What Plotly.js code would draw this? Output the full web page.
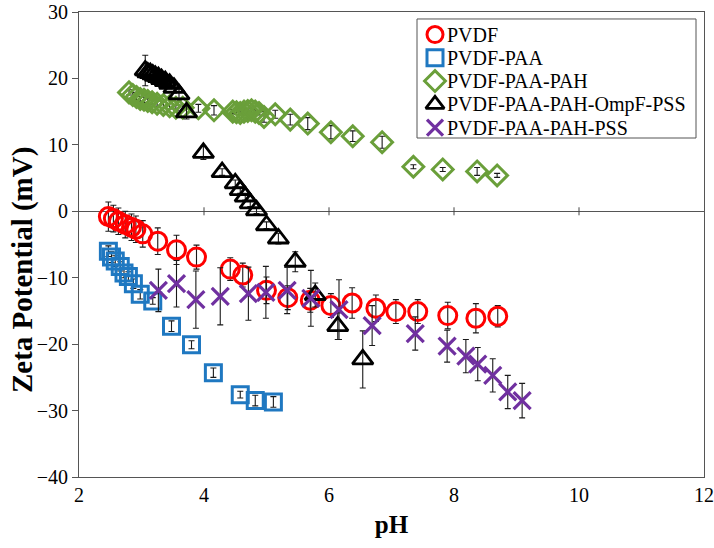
<!DOCTYPE html>
<html>
<head>
<meta charset="utf-8">
<script src="https://cdn.plot.ly/plotly-3.0.1.min.js"></script>
<style>html,body{margin:0;padding:0;background:#fff;}#chart{width:714px;height:548px;}</style>
</head>
<body>
<div id="chart"></div>
<script>
// ---- data ----
const seriesNames = ["PVDF", "PVDF-PAA", "PVDF-PAA-PAH", "PVDF-PAA-PAH-OmpF-PSS", "PVDF-PAA-PAH-PSS"];

const pvdfPH  = [2.47,2.55,2.63,2.74,2.84,2.91,3.02,3.26,3.56,3.88,4.42,4.62,5.0,5.34,5.7,6.03,6.37,6.75,7.07,7.42,7.9,8.35,8.7];
const pvdfZP  = [-0.8,-1.1,-1.5,-2.0,-2.4,-2.7,-3.4,-4.5,-5.8,-6.9,-8.7,-9.6,-11.9,-13.0,-13.4,-14.2,-13.8,-14.6,-15.1,-15.1,-15.7,-16.1,-15.8];
const pvdfErr = [2.2,2.0,2.0,2.0,2.0,2.0,2.0,2.0,2.2,1.8,1.7,1.8,2.0,1.8,1.8,1.8,2.3,2.0,1.8,1.8,2.0,2.2,1.6];

const paaPH  = [2.47,2.52,2.58,2.66,2.72,2.79,2.87,2.98,3.18,3.48,3.8,4.15,4.58,4.82,5.11];
const paaZP  = [-6.0,-6.9,-7.5,-8.3,-9.3,-9.8,-10.9,-12.5,-13.5,-17.3,-20.1,-24.3,-27.6,-28.5,-28.7];
const paaErr = [0.8,0.8,0.8,0.7,0.7,0.7,0.7,0.7,0.5,0.8,0.6,0.7,0.5,0.8,0.8];

const pahPH  = [2.8,2.86,2.92,2.98,3.04,3.1,3.17,3.25,3.35,3.45,3.55,3.66,3.91,4.16,4.46,4.52,4.58,4.64,4.7,4.76,4.82,4.88,4.96,5.14,5.38,5.66,6.03,6.38,6.85,7.35,7.82,8.37,8.69];
const pahZP  = [17.9,17.5,17.2,16.9,16.8,16.6,16.4,16.2,16.0,15.8,15.6,15.6,15.5,15.2,15.0,14.9,14.8,15.0,15.1,15.2,15.0,14.8,14.2,14.6,13.8,13.2,11.9,11.3,10.4,6.7,6.3,6.0,5.4];
const pahErr = [0.4,0.4,0.4,0.4,0.4,0.4,0.4,0.4,0.4,0.4,0.4,0.4,0.6,0.7,0.3,0.3,0.3,0.3,0.3,0.3,0.3,0.3,0.8,0.6,0.8,0.9,1.0,0.8,0.9,0.3,0.3,0.6,0.3];

const ompfPH  = [3.06,3.1,3.14,3.18,3.22,3.27,3.32,3.38,3.45,3.52,3.6,3.72,3.99,4.29,4.5,4.58,4.66,4.74,4.84,5.0,5.19,5.46,5.78,6.14,6.54];
const ompfZP  = [21.2,20.9,20.8,20.6,20.4,20.2,19.9,19.6,19.2,18.6,17.6,14.9,8.8,5.9,4.2,3.2,2.2,1.2,0.15,-2.1,-4.1,-7.6,-12.6,-17.3,-22.3];
const ompfErr = [2.3,1.0,1.0,1.0,0.8,0.8,0.8,0.8,0.8,0.8,0.8,1.0,1.0,0.5,0.5,0.5,0.5,0.5,0.5,0.5,0.8,1.5,1.8,2.0,4.3];

const pssPH  = [3.27,3.56,3.87,4.26,4.71,4.99,5.33,5.71,6.16,6.69,7.38,7.89,8.19,8.38,8.62,8.86,9.09];
const pssZP  = [-11.9,-10.9,-13.3,-12.8,-12.4,-12.2,-11.9,-13.1,-14.8,-17.2,-18.4,-20.3,-21.8,-23.0,-24.7,-27.2,-28.5];
const pssErr = [3.2,3.5,4.3,4.3,4.0,3.9,3.5,4.2,4.5,3.0,2.5,2.4,2.5,2.5,2.5,2.5,2.6];

const xTickVals = [2,4,6,8,10,12];
const yTickVals = [-40,-30,-20,-10,0,10,20,30];

// ---- styles ----
const FONT = "Liberation Serif, Times New Roman, serif";
const styles = [
  {symbol:'circle-open',      color:'#FF0000', size:18, lw:3},
  {symbol:'square-open',      color:'#1F78C1', size:16, lw:3},
  {symbol:'diamond-open',     color:'#6A9F3A', size:16, lw:3},
  {symbol:'triangle-up-open', color:'#000000', size:18, lw:2.8},
  {symbol:'x-thin-open',      color:'#7030A0', size:17, lw:3.2}
];
const xs = [pvdfPH, paaPH, pahPH, ompfPH, pssPH];
const ys = [pvdfZP, paaZP, pahZP, ompfZP, pssZP];
const es = [pvdfErr, paaErr, pahErr, ompfErr, pssErr];

const traces = seriesNames.map((n, i) => ({
  type:'scatter', mode:'markers', name:n, x:xs[i], y:ys[i], showlegend:false,
  error_y:{type:'data', array:es[i], visible:true, color:'#1a1a1a', thickness:1.1, width:3},
  marker:{symbol:styles[i].symbol, size:styles[i].size, color:styles[i].color,
          line:{color:styles[i].color, width:styles[i].lw}}
}));

// ---- custom legend (paper-space overlay axes) ----
const LEG = {x0:0.5408, x1:0.9872, y0:0.7290, y1:0.9850, symX:0.5696, textX:0.5856, rowTop:0.9515, rowStep:0.0500};
seriesNames.forEach((n, i) => {
  traces.push({type:'scatter', mode:'markers', xaxis:'x2', yaxis:'y2', showlegend:false, hoverinfo:'skip',
    x:[LEG.symX], y:[LEG.rowTop - i*LEG.rowStep],
    marker:{symbol:styles[i].symbol, size:Math.min(styles[i].size,16), color:styles[i].color,
            line:{color:styles[i].color, width:styles[i].lw}}});
});
const annotations = seriesNames.map((n, i) => ({xref:'paper', yref:'paper', x:LEG.textX, y:LEG.rowTop - i*LEG.rowStep,
  xanchor:'left', yanchor:'middle', text:n, showarrow:false, font:{family:FONT, size:20, color:'#000'}}));
annotations.push({xref:'paper', yref:'paper', x:-0.0912, y:0.445, xanchor:'center', yanchor:'middle',
  textangle:-90, showarrow:false, text:'<b>Zeta Potential (mV)</b>', font:{family:FONT, size:29, color:'#000'}});

// tick marks crossing the zero line + legend box
const shapes = xTickVals.slice(1,-1).map(v => ({type:'line', xref:'x', yref:'y', ysizemode:'pixel', yanchor:0,
  x0:v, x1:v, y0:-4, y1:4, line:{color:'#444', width:1}}));
shapes.push({type:'rect', xref:'paper', yref:'paper', layer:'below', x0:LEG.x0, x1:LEG.x1, y0:LEG.y0, y1:LEG.y1,
  fillcolor:'#fff', line:{color:'#555', width:1}});

const layout = {
  width:714, height:548,
  margin:{l:79, r:10, t:12, b:71},
  paper_bgcolor:'#fff', plot_bgcolor:'#fff',
  font:{family:FONT, size:20, color:'#000'},
  showlegend:false,
  xaxis:{range:[2,12], tickvals:xTickVals, ticks:'', showgrid:false, zeroline:false,
    showline:true, mirror:true, linecolor:'#555', linewidth:1,
    tickfont:{family:FONT, size:20}, title:{text:'<b>pH</b>', font:{family:FONT, size:25}, standoff:10}},
  yaxis:{range:[-40,30], tickvals:yTickVals, ticks:'outside', ticklen:6, tickcolor:'#555', showgrid:false,
    zeroline:true, zerolinecolor:'#555', zerolinewidth:1,
    showline:true, mirror:true, linecolor:'#555', linewidth:1,
    tickfont:{family:FONT, size:20}},
  xaxis2:{overlaying:'x', range:[0,1], visible:false, fixedrange:true},
  yaxis2:{overlaying:'y', range:[0,1], visible:false, fixedrange:true},
  shapes:shapes,
  annotations:annotations
};

Plotly.newPlot('chart', traces, layout, {displayModeBar:false, staticPlot:true});
</script>
</body>
</html>
